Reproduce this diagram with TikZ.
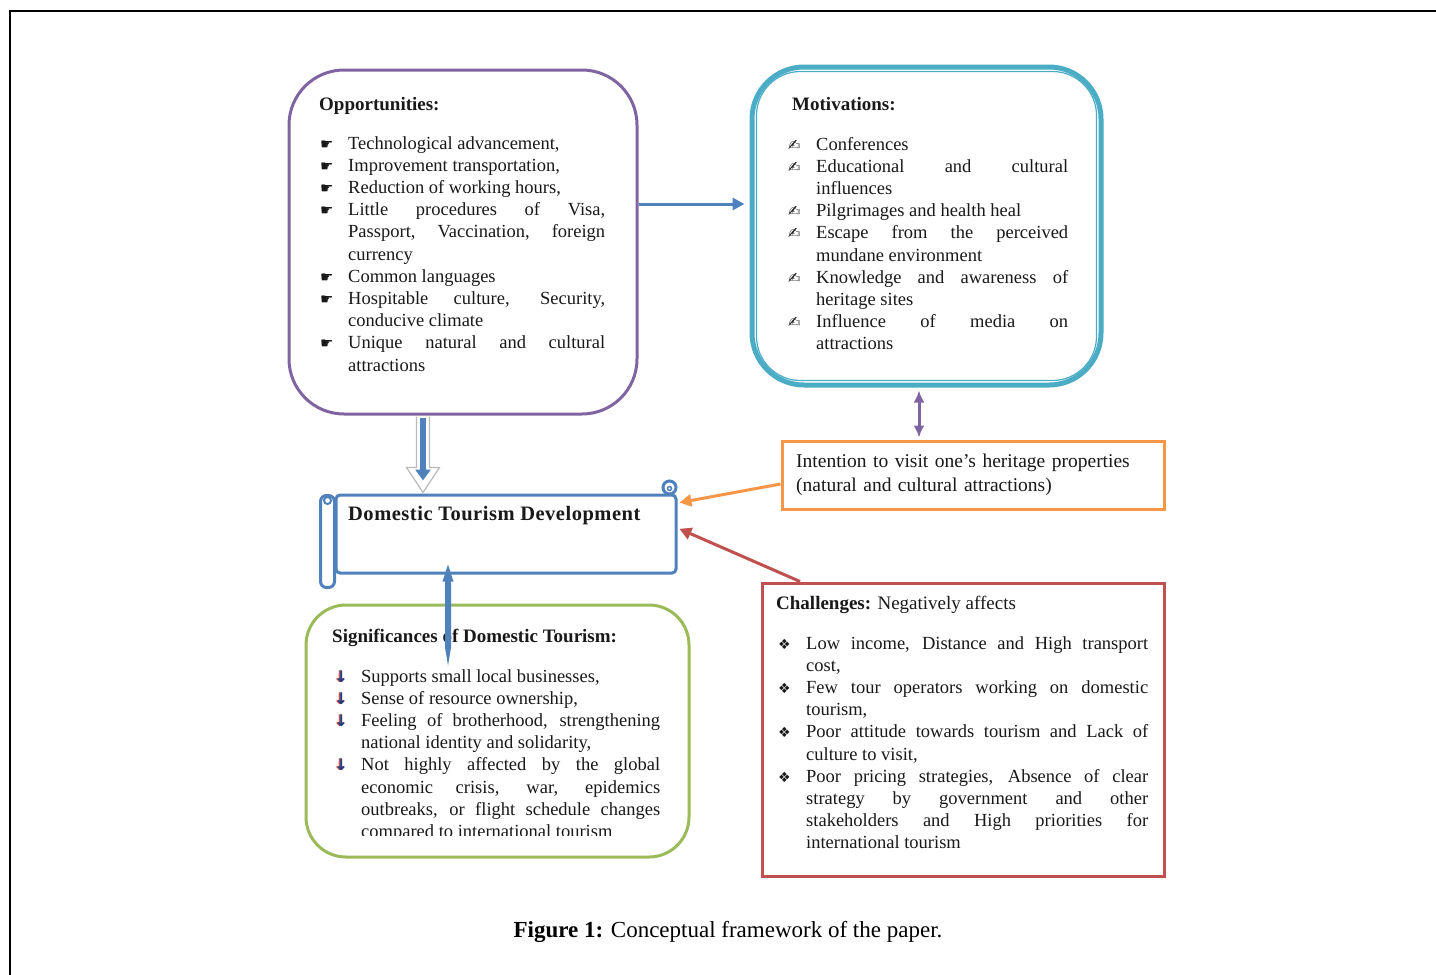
\documentclass[tikz,border=0pt]{standalone}
\usepackage{fontspec}
\setmainfont{Liberation Serif}
\newfontfamily\symfont{DejaVu Sans}
\usetikzlibrary{arrows.meta,calc}

\definecolor{oppviolet}{HTML}{8064A2}
\definecolor{motteal}{HTML}{4BACC6}
\definecolor{devblue}{HTML}{4F81BD}
\definecolor{intorange}{HTML}{F79646}
\definecolor{chalred}{HTML}{C0504D}
\definecolor{siggreen}{HTML}{9BBB59}
\definecolor{arrnavy}{HTML}{1F3B7A}

\tolerance=10000
\hbadness=10000
\hyphenpenalty=10000

\newlength{\itemind}\setlength{\itemind}{28pt}
\newcommand{\bitem}[2]{\noindent\hangindent=\itemind\hangafter=1\hbox to \itemind{#1\hfil}#2\par}
\newcommand{\handsym}{{\symfont\fontsize{15}{15}\selectfont ☛}}
\newcommand{\writesym}{{\symfont\fontsize{15}{15}\selectfont ✍}}
\newcommand{\downsym}{{\symfont\bfseries\fontsize{16}{16}\selectfont\rlap{\textcolor{chalred}{↓}}\kern1.5pt\textcolor{arrnavy}{↓}}}
\newcommand{\diasym}{{\symfont\fontsize{14}{14}\selectfont ❖}}

\tikzset{
  framebox/.style={draw, line width=3pt, inner sep=0pt},
  boxtitle/.style={font=\bfseries\fontsize{19}{22}\selectfont, text=black!90, inner sep=0pt, anchor=base west},
  boxtext/.style={font=\fontsize{18.5}{22.2}\selectfont, text=black!90, inner sep=0pt, anchor=base west, align=justify},
  linkarrow/.style={line width=3pt, -{Triangle[length=12pt,width=12pt]}},
}

\begin{document}
\begin{tikzpicture}[x=1pt,y=-1pt]
\useasboundingbox (0,0) rectangle (1436,975);
\fill[white] (0,0) rectangle (1436,975);
\draw[line width=1.3pt] (1436,11) -- (10,11) -- (10,975);

%%%%% boxes %%%%%
\node[framebox, draw=oppviolet, rounded corners=55pt, minimum width=348pt, minimum height=344pt] (opp) at (463,242) {};
\node[framebox, draw=motteal, line width=5pt, rounded corners=52pt, minimum width=349pt, minimum height=318pt] (mot) at (926.5,226) {};
\draw[motteal, line width=1.2pt, rounded corners=44pt] ([shift={(7,7)}]mot.north west) rectangle ([shift={(-7,-7)}]mot.south east);
\node[framebox, draw=intorange, minimum width=382pt, minimum height=68pt] (intent) at (973,475) {};
\node[framebox, draw=chalred, minimum width=402pt, minimum height=293pt] (chal) at (963,729.5) {};
\node[framebox, draw=siggreen, rounded corners=40pt, minimum width=383pt, minimum height=252pt] (sig) at (497.5,731) {};

% scroll
\node[framebox, draw=devblue, rounded corners=4pt, minimum width=340pt, minimum height=78pt] (dtd) at (506,534) {};
\draw[devblue, line width=3pt, fill=white, rounded corners=6pt] ([shift={(-14,2)}]dtd.north west) rectangle ([shift={(0,13)}]dtd.south west);
\draw[devblue, line width=2pt] ([shift={(-7,7)}]dtd.north west) circle (3.5pt);
\draw[devblue, line width=3pt, fill=white] ([shift={(-8,-6)}]dtd.north east) circle (6.5pt);
\draw[devblue, line width=1.5pt] ([shift={(-8,-5)}]dtd.north east) circle (2pt);

%%%%% texts %%%%%
\node[boxtitle] (opptitle) at (319,110) {Opportunities:};
\node[boxtext, text width=285pt] (opplist) at (320,149) {%
\bitem{\handsym}{Technological advancement,}
\bitem{\handsym}{Improvement transportation,}
\bitem{\handsym}{Reduction of working hours,}
\bitem{\handsym}{Little procedures of Visa,\linebreak Passport, Vaccination, foreign\linebreak currency}
\bitem{\handsym}{Common languages}
\bitem{\handsym}{Hospitable culture, Security,\linebreak conducive climate}
\bitem{\handsym}{Unique natural and cultural\linebreak attractions}};

\node[boxtitle] (mottitle) at (792,110) {Motivations:};
\node[boxtext, text width=280pt] (motlist) at (788,150) {%
\bitem{\writesym}{Conferences}
\bitem{\writesym}{Educational and cultural\linebreak influences}
\bitem{\writesym}{Pilgrimages and health heal}
\bitem{\writesym}{Escape from the perceived\linebreak mundane environment}
\bitem{\writesym}{Knowledge and awareness of\linebreak heritage sites}
\bitem{\writesym}{Influence of media on\linebreak attractions}};

\node[font=\fontsize{19.5}{24}\selectfont, text=black!90, inner sep=0pt, anchor=base west, text width=360pt, align=left] (intenttext) at (796,467) {Intention to visit one's heritage properties\\(natural and cultural attractions)};

\node[boxtitle, font=\bfseries\fontsize{20.5}{24}\selectfont\addfontfeature{LetterSpace=2.5}] (dtdtitle) at (348,520) {Domestic Tourism Development};

\node[boxtitle] (sigtitle) at (332,642) {Significances of Domestic Tourism:};
\begin{scope}
\clip (300,600) rectangle (700,835);
\node[boxtext, text width=327pt] (siglist) at (333,682) {%
\bitem{\downsym}{Supports small local businesses,}
\bitem{\downsym}{Sense of resource ownership,}
\bitem{\downsym}{Feeling of brotherhood, strengthening\linebreak national identity and solidarity,}
\bitem{\downsym}{Not highly affected by the global\linebreak economic crisis, war, epidemics\linebreak outbreaks, or flight schedule changes\linebreak compared to international tourism}};
\end{scope}

\node[boxtitle] (chaltitle) at (776,609) {Challenges: {\mdseries Negatively affects}};
\node[boxtext, text width=370pt] (challist) at (778,649) {%
\bitem{\diasym}{Low income, Distance and High transport\linebreak cost,}
\bitem{\diasym}{Few tour operators working on domestic\linebreak tourism,}
\bitem{\diasym}{Poor attitude towards tourism and Lack of\linebreak culture to visit,}
\bitem{\diasym}{Poor pricing strategies, Absence of clear\linebreak strategy by government and other\linebreak stakeholders and High priorities for\linebreak international tourism}};

\node[font=\fontsize{23}{26}\selectfont, inner sep=0pt, anchor=base] (caption) at (728,937) {\textbf{Figure 1:} Conceptual framework of the paper.};

%%%%% arrows %%%%%
\coordinate (yop) at (0,204);
\draw[linkarrow, devblue, shorten >=5pt] (opp.east |- yop) -- (mot.west |- yop);

\coordinate (xpv) at (919,0);
\draw[oppviolet, line width=3pt, {Latex[length=12pt,width=11pt]}-{Latex[length=12pt,width=11pt]}, shorten <=3pt, shorten >=2pt] (mot.south -| xpv) -- (intent.north -| xpv);

\coordinate (yo1) at (0,484);
\coordinate (yo2) at (0,503);
\draw[linkarrow, intorange, shorten >=2pt] (intent.west |- yo1) -- (dtd.east |- yo2);

\coordinate (xr) at (800,0);
\coordinate (yr) at (0,528);
\draw[linkarrow, chalred, shorten >=2pt] (chal.north -| xr) -- (dtd.east |- yr);

% hollow arrow down
\coordinate (xd) at (423,0);
\coordinate (os) at (opp.south -| xd);
\coordinate (ot) at (dtd.north -| xd);
\draw[gray!55, line width=1.2pt, fill=white] ($(os)+(-6.5,1)$) -- ($(ot)+(-6.5,-26)$) -- ($(ot)+(-16.5,-26)$) -- ($(ot)+(0,-1)$) -- ($(ot)+(16.5,-26)$) -- ($(ot)+(6.5,-26)$) -- ($(os)+(6.5,1)$);
\draw[devblue, line width=5.5pt, -{Triangle[length=11pt,width=15pt]}] ($(os)+(0,2)$) -- ($(ot)+(0,-13)$);

% tapered arrow up
\coordinate (xs) at (448,0);
\coordinate (st) at ($(dtd.south -| xs)+(0,-10)$);
\coordinate (se) at ($(sig.north -| xs)+(0,62)$);
\fill[devblue] (st) -- ++(-5.5,17) -- ++(2.5,0) -- ($(se)+(-3,-18)$) -- (se) -- ($(se)+(3,-18)$) -- ($(st)+(3,17)$) -- ++(2.5,0) -- cycle;
\end{tikzpicture}
\end{document}
